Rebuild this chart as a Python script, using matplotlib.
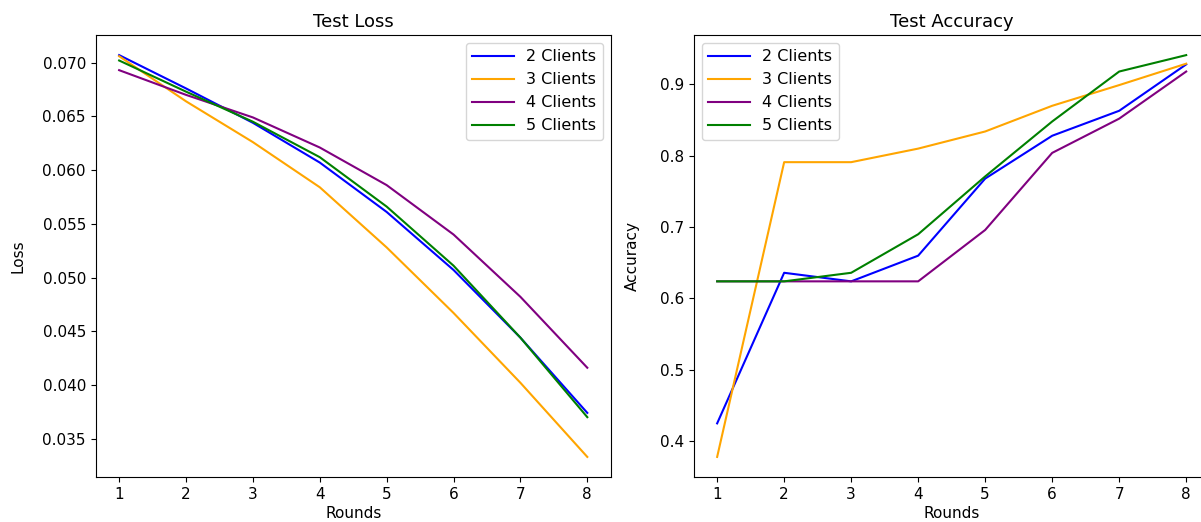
import matplotlib
matplotlib.use('Agg')
import matplotlib.pyplot as plt

rounds = [1, 2, 3, 4, 5, 6, 7, 8]
labels = ['2 Clients', '3 Clients', '4 Clients', '5 Clients']
colors = ['blue', 'orange', 'purple', 'green']

loss_2 = [0.0707, 0.0676, 0.0644, 0.0607, 0.0561, 0.0507, 0.0444, 0.0374]
loss_3 = [0.0706, 0.0664, 0.0626, 0.0584, 0.0528, 0.0467, 0.0402, 0.0333]
loss_4 = [0.0693, 0.0670, 0.0649, 0.0621, 0.0586, 0.0540, 0.0482, 0.0416]
loss_5 = [0.0702, 0.0673, 0.0645, 0.0612, 0.0566, 0.0511, 0.0444, 0.0370]

acc_2 = [0.425, 0.636, 0.624, 0.660, 0.768, 0.828, 0.863, 0.928]
acc_3 = [0.378, 0.791, 0.791, 0.810, 0.834, 0.870, 0.899, 0.929]
acc_4 = [0.624, 0.624, 0.624, 0.624, 0.696, 0.804, 0.852, 0.918]
acc_5 = [0.624, 0.624, 0.636, 0.690, 0.771, 0.848, 0.918, 0.941]

loss_list = [loss_2, loss_3, loss_4, loss_5]
acc_list = [acc_2, acc_3, acc_4, acc_5]

plt.rc('font', size=11)
plt.rc('axes', titlesize=13)
plt.rc('legend', fontsize=11.5, handlelength=2.6)

fig = plt.figure(figsize=(12.01, 5.22), dpi=100)
ax1 = fig.add_axes([0.0797, 0.0862, 0.4288, 0.8467])
ax2 = fig.add_axes([0.5776, 0.0862, 0.4296, 0.8467])

for i, data in enumerate(loss_list):
    ax1.plot(rounds, data, color=colors[i], label=labels[i])
ax1.set_title('Test Loss')
ax1.set_xlabel('Rounds', labelpad=3)
ax1.set_ylabel('Loss', labelpad=12)
ax1.set_xticks(rounds)
ax1.legend(loc='upper right')

for i, data in enumerate(acc_list):
    ax2.plot(rounds, data, color=colors[i], label=labels[i])
ax2.set_title('Test Accuracy')
ax2.set_xlabel('Rounds', labelpad=3)
ax2.set_ylabel('Accuracy', labelpad=14)
ax2.set_xticks(rounds)
ax2.legend(loc='upper left')

plt.savefig('out.png', dpi=100)
